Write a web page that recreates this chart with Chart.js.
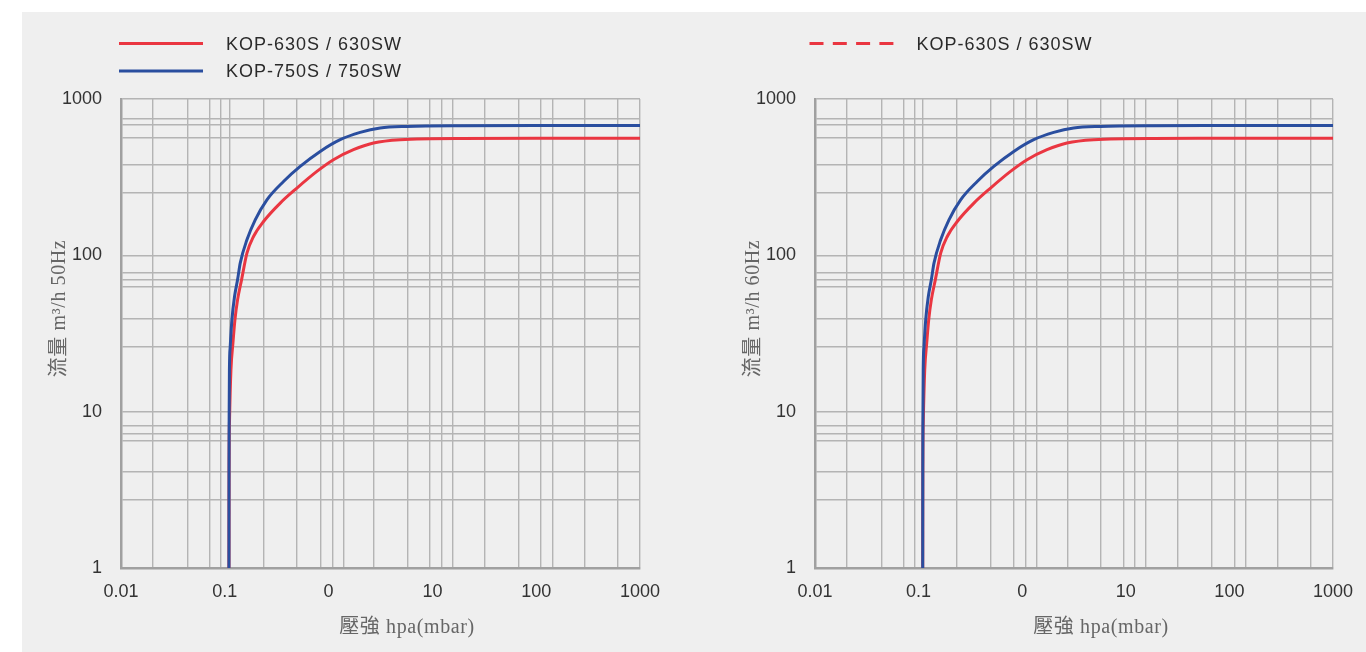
<!DOCTYPE html>
<html>
<head>
<meta charset="utf-8">
<script src="https://cdn.jsdelivr.net/npm/chart.js@4.4.1/dist/chart.umd.min.js"></script>
<style>
  html, body { margin: 0; padding: 0; background: #ffffff; width: 1366px; height: 652px; overflow: hidden; }
  #panel { position: absolute; left: 22px; top: 12px; width: 1344px; height: 640px; background: #efefef; }
  .box { position: absolute; top: 0; width: 683px; height: 652px; }
  canvas { display: block; }
</style>
</head>
<body>
<div id="panel"></div>
<div class="box" style="left:0px"><canvas id="c50" width="683" height="652"></canvas></div>
<div class="box" style="left:683px"><canvas id="c60" width="683" height="652"></canvas></div>
<script>
// ---------- DATA ----------
const seriesNames = ['KOP-630S / 630SW', 'KOP-750S / 750SW'];

// KOP-630S / 630SW  (pressure hPa -> flow m3/h)
const pressure630 = [0.1096, 0.1099, 0.1111, 0.1146, 0.1198, 0.1252, 0.1327, 0.145, 0.1634, 0.1891, 0.236, 0.3419, 0.495, 0.7714, 1.114, 1.736, 2.705, 4.89, 18.49, 100, 1000];
const flow630     = [1, 4.2, 8.9, 18.5, 27.5, 38.7, 51.9, 69.7, 103.3, 132, 164.6, 215.9, 269.3, 344.1, 408.8, 473.7, 522.9, 548.9, 559.5, 560, 560];

// KOP-750S / 750SW
const pressure750 = [0.1096, 0.1098, 0.1101, 0.1108, 0.1128, 0.1171, 0.1241, 0.1327, 0.1408, 0.1634, 0.1964, 0.2545, 0.3678, 0.5325, 0.8296, 1.293, 2.014, 3.139, 5.672, 18.49, 100, 1000];
const flow750     = [1, 4.2, 8.9, 18.5, 26.1, 38.7, 54.5, 69.7, 89.2, 125.7, 168.8, 226.7, 296.9, 370.4, 461.9, 548.9, 611.3, 652.3, 667.8, 674.8, 676, 676];

// axis ticks
const xTickValues = [0.01, 0.1, 1, 10, 100, 1000];
const xTickLabels = ['0.01', '0.1', '0', '10', '100', '1000'];
const yTickValues = [1, 10, 100, 1000];
const yTickLabels = ['1', '10', '100', '1000'];

// grid line values (as drawn in the original grid)
const xGridValues = [0.01, 0.0203, 0.0438, 0.0713, 0.0914, 0.1103, 0.2345, 0.493, 0.833, 1.09, 1.388, 2.748, 5.77, 9.51, 12.32, 15.65, 31.7, 67.95, 111.4, 144.3, 290.9, 604.5, 1000];
const yGridValues = [1, 2.75, 4.13, 6.53, 7.28, 8.19, 10, 26.1, 39.1, 62.9, 70.25, 77.9, 100, 251, 380, 568, 680, 750, 1000];

const xTitle = '壓強 hpa(mbar)';
const yTitle50 = '流量 m³/h 50Hz';
const yTitle60 = '流量 m³/h 60Hz';

// ---------- STYLE ----------
const RED = '#ea3641';
const BLUE = '#2a4e9f';
const GRID = '#b4b4b4';
const BORDER = '#a0a0a0';
const TICK_FONT = { family: '"Liberation Sans", Arial, sans-serif', size: 18 };
const TITLE_FONT = '20px "Liberation Serif", "Noto Sans CJK TC", serif';

const xAllTicks = Array.from(new Set([...xGridValues, ...xTickValues])).sort((a, b) => a - b);
const yAllTicks = Array.from(new Set([...yGridValues, ...yTickValues])).sort((a, b) => a - b);

const decorPlugin = {
  id: 'decor',
  afterDraw(chart, args, opts) {
    const ctx = chart.ctx;
    const a = chart.chartArea;
    ctx.save();
    // legend
    opts.legend.forEach((item, i) => {
      const y = opts.legendY + i * 27.4;
      ctx.beginPath();
      ctx.setLineDash(item.dash);
      ctx.lineCap = 'butt';
      ctx.strokeStyle = item.color;
      ctx.lineWidth = 3;
      ctx.moveTo(opts.legendX, y);
      ctx.lineTo(opts.legendX + 84, y);
      ctx.stroke();
      ctx.setLineDash([]);
      ctx.font = '18px "Liberation Sans", Arial, sans-serif';
      ctx.letterSpacing = '1px';
      ctx.fillStyle = '#2a2a2a';
      ctx.textAlign = 'left';
      ctx.textBaseline = 'alphabetic';
      ctx.fillText(item.label, opts.legendX + 107, y + 6.5);
    });
    ctx.letterSpacing = '0.6px';
    ctx.font = TITLE_FONT;
    ctx.fillStyle = '#666666';
    ctx.textAlign = 'center';
    ctx.textBaseline = 'middle';
    // x title
    ctx.fillText(opts.xTitle, a.left + 286, 628);
    // y title
    ctx.translate(a.left - 61, a.top + 209.5);
    ctx.rotate(-Math.PI / 2);
    ctx.fillText(opts.yTitle, 0, 0);
    ctx.restore();
  }
};

function makeChart(id, yTitle, legend, legendX, leftWidth, rightPad) {
  return new Chart(document.getElementById(id), {
    type: 'line',
    data: {
      datasets: [
        {
          label: seriesNames[0],
          data: pressure630.map((p, i) => ({ x: p, y: flow630[i] })),
          borderColor: RED, backgroundColor: RED, borderWidth: 3,
          pointRadius: 0, cubicInterpolationMode: 'monotone', fill: false, order: 2,
          borderCapStyle: 'round', borderJoinStyle: 'round'
        },
        {
          label: seriesNames[1],
          data: pressure750.map((p, i) => ({ x: p, y: flow750[i] })),
          borderColor: BLUE, backgroundColor: BLUE, borderWidth: 3,
          pointRadius: 0, cubicInterpolationMode: 'monotone', fill: false, order: 1,
          borderCapStyle: 'round', borderJoinStyle: 'round'
        }
      ]
    },
    options: {
      responsive: false,
      animation: false,
      devicePixelRatio: 1,
      layout: { padding: { left: 0, right: rightPad, top: 99, bottom: 0 } },
      plugins: {
        legend: { display: false },
        tooltip: { enabled: false },
        decor: { legend: legend, legendX: legendX, legendY: 43.5, xTitle: xTitle, yTitle: yTitle }
      },
      scales: {
        x: {
          type: 'logarithmic',
          min: 0.01, max: 1000,
          afterBuildTicks: (s) => { s.ticks = xAllTicks.map(v => ({ value: v })); },
          afterFit: (s) => { s.height = 84; },
          ticks: {
            autoSkip: false, maxRotation: 0, minRotation: 0, padding: 13,
            color: '#333333', font: TICK_FONT,
            callback: (v) => { const i = xTickValues.indexOf(v); return i >= 0 ? xTickLabels[i] : ''; }
          },
          grid: {
            drawTicks: false, lineWidth: 1.4,
            color: (c) => (c.tick && xGridValues.includes(c.tick.value)) ? GRID : 'rgba(0,0,0,0)'
          },
          border: { display: true, color: BORDER, width: 2.5 }
        },
        y: {
          type: 'logarithmic',
          min: 1, max: 1000,
          afterBuildTicks: (s) => { s.ticks = yAllTicks.map(v => ({ value: v })); },
          afterFit: (s) => { s.width = leftWidth; },
          ticks: {
            autoSkip: false, padding: 19,
            color: '#333333', font: TICK_FONT,
            callback: (v) => { const i = yTickValues.indexOf(v); return i >= 0 ? yTickLabels[i] : ''; }
          },
          grid: {
            drawTicks: false, lineWidth: 1.4,
            color: (c) => (c.tick && yGridValues.includes(c.tick.value)) ? GRID : 'rgba(0,0,0,0)'
          },
          border: { display: true, color: BORDER, width: 2.5 }
        }
      }
    },
    plugins: [decorPlugin]
  });
}

makeChart('c50', yTitle50,
  [{ label: seriesNames[0], color: RED, dash: [] }, { label: seriesNames[1], color: BLUE, dash: [] }],
  119, 121, 43);
makeChart('c60', yTitle60,
  [{ label: seriesNames[0], color: RED, dash: [14, 9.3] }],
  126.5, 132, 31);
</script>
</body>
</html>
